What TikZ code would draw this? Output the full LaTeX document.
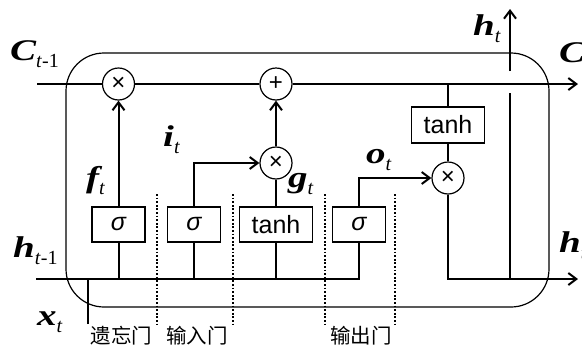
\documentclass[tikz,border=0pt]{standalone}
\usepackage{fontspec}
\usepackage{graphicx}
\setmainfont{Liberation Serif}
\newfontfamily\sansf{Liberation Sans}
\newfontfamily\cjkf{Noto Sans CJK SC}
\usetikzlibrary{arrows.meta}
\newcommand{\vlab}[2]{\scalebox{1.3}[1]{\fontsize{30}{32}\selectfont\bfseries\itshape #1}\raisebox{-7pt}{\fontsize{20}{20}\selectfont #2}}
\begin{document}
\begin{tikzpicture}[x=1pt,y=-1pt,
 wire/.style={line width=2pt},
 arr/.style={wire,-{Straight Barb[length=8pt,width=12pt]}},
 gatebox/.style={draw,line width=1.2pt,fill=white,minimum height=35pt,inner sep=0pt,font=\sansf\fontsize{25}{25}\selectfont},
 opcirc/.style={draw,circle,line width=1.2pt,fill=white,minimum size=32pt,inner sep=0pt,font=\sansf\fontsize{24}{24}\selectfont},
 dotsep/.style={line width=2.2pt,dash pattern=on 1.8pt off 1.8pt},
 lab/.style={inner sep=0pt,anchor=base west},
 cjk/.style={inner sep=0pt,font=\cjkf\fontsize{20.5}{22}\selectfont}]
\useasboundingbox (0,0) rectangle (582,346);
\clip (0,0) rectangle (582,346);
% cell outline
\node[draw, line width=1.2pt, rounded corners=38pt, minimum width=483pt, minimum height=254pt] (cell) at (307.5,180) {};
% coordinates
\coordinate (cin) at (37,84);
\coordinate (cout) at (578,84);
\coordinate (hin) at (36,279);
\coordinate (hend) at (578,279);
\coordinate (hjoin) at (359,279);
\coordinate (xbot) at (88,324);
\coordinate (jt) at (448,84);
\coordinate (htbot) at (510,279);
\coordinate (htlow) at (510,93);
\coordinate (htup) at (510,71);
\coordinate (httop) at (510,9);
% dotted separators
\foreach \x/\n in {157/a,233/b,325/c,395/d}{
  \coordinate (d\n t) at (\x,194);
  \coordinate (d\n b) at (\x,327);
  \draw[dotsep] (d\n t) -- (d\n b);
}
% operators and gates
\node[opcirc] (fx) at (118.5,84) {×};
\node[opcirc] (px) at (276,84) {+};
\node[opcirc] (ix) at (276,163) {×};
\node[opcirc] (ox) at (448,178) {×};
\node[gatebox, minimum width=53pt] (bf) at (118.5,224.5) {\itshape σ};
\node[gatebox, minimum width=53pt] (bi) at (194,224.5) {\itshape σ};
\node[gatebox, minimum width=73pt] (bg) at (276,224.5) {tanh};
\node[gatebox, minimum width=53pt] (bo) at (359,224.5) {\itshape σ};
\node[gatebox, minimum width=73pt, minimum height=36pt] (bt) at (448,125) {tanh};
% cell state line
\draw[wire] (cin) -- (fx.west);
\draw[wire] (fx.east) -- (px.west);
\draw[arr] (px.east) -- (cout);
\draw[wire] (jt) -- (bt.north);
\draw[wire] (bt.south) -- (ox.north);
% hidden input line
\draw[wire] (hin) -- (hjoin) -- (bo.south);
\draw[wire] (bf.south) -- (bf.south |- hin);
\draw[wire] (bi.south) -- (bi.south |- hin);
\draw[wire] (bg.south) -- (bg.south |- hin);
\draw[wire] (xbot) -- (xbot |- hin);
% gate outputs
\draw[arr] (bf.north) -- (fx.south);
\draw[arr] (bi.north) |- (ix.west);
\draw[wire] (bg.north) -- (ix.south);
\draw[arr] (ix.north) -- (px.south);
\draw[arr] (bo.north) |- (ox.west);
\draw[arr] (ox.south) |- (hend);
\draw[wire] (htbot) -- (htlow);
\draw[arr] (htup) -- (httop);
% labels
\node[lab] (lc0) at (10,60) {\vlab{C}{\textit{t}-1}};
\node[lab] (lh0) at (13,257) {\vlab{h}{\textit{t}-1}};
\node[lab] (lx) at (37,325) {\vlab{x}{\textit{t}}};
\node[lab] (lf) at (86,187) {\vlab{f}{\textit{t}}};
\node[lab] (li) at (163,146) {\vlab{i}{\textit{t}}};
\node[lab] (lg) at (288,187) {\vlab{g}{\textit{t}}};
\node[lab] (lo) at (366,163) {\vlab{o}{\textit{t}}};
\node[lab] (lht) at (473,35) {\vlab{h}{\textit{t}}};
\node[lab] (lct) at (559,62) {\vlab{C}{\textit{t}}};
\node[lab] (lh1) at (559,252) {\vlab{h}{\textit{t}}};
\node[cjk] (g1) at (121.5,336) {遗忘门};
\node[cjk] (g2) at (197,336) {输入门};
\node[cjk] (g3) at (361,336) {输出门};
\end{tikzpicture}
\end{document}
